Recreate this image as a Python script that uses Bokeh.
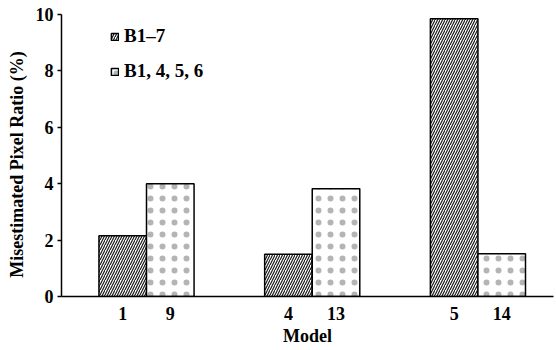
from bokeh.plotting import figure
from bokeh.models import ColumnDataSource, FixedTicker, Legend, LegendItem
from bokeh.transform import dodge
from bokeh.embed import file_html
from bokeh.resources import INLINE

# Data
groups = [1, 2, 3]
models_a = ["1", "4", "5"]
models_b = ["9", "13", "14"]
series_a_name = "B1\u20137"
series_b_name = "B1, 4, 5, 6"
values_a = [2.15, 1.50, 9.85]
values_b = [4.00, 3.82, 1.52]
y_ticks = [0, 2, 4, 6, 8, 10]

BW = 0.287
FONT = "Liberation Serif"
FS = "18px"

p = figure(width=556, height=350, output_backend="svg", toolbar_location=None,
           x_range=(0.487, 3.456), y_range=(0, 10),
           min_border_left=61, min_border_right=3, min_border_top=14, min_border_bottom=54)
p.outline_line_color = None
p.xgrid.grid_line_color = None
p.ygrid.grid_line_color = None

src = ColumnDataSource(dict(g=groups, a=values_a, b=values_b))

ra = p.vbar(x=dodge("g", -BW / 2, range=p.x_range), top="a", width=BW, source=src,
            fill_color="white", line_color="black", line_width=1.5,
            hatch_pattern="right_diagonal_line", hatch_scale=5, hatch_weight=1.2,
            hatch_color="#1a1a1a")
rb = p.vbar(x=dodge("g", BW / 2, range=p.x_range), top="b", width=BW, source=src,
            fill_color="white", line_color="black", line_width=1.5,
            hatch_pattern="dot", hatch_scale=12, hatch_weight=0.1,
            hatch_color="#b4b4b4")

# x ticks at bar centres
tick_pos = []
overrides = {}
for g, ma, mb in zip(groups, models_a, models_b):
    tick_pos += [g - BW / 2, g + BW / 2]
    overrides[g - BW / 2] = ma
    overrides[g + BW / 2] = mb
p.xaxis.ticker = FixedTicker(ticks=tick_pos)
p.xaxis.major_label_overrides = overrides
p.xaxis.major_tick_line_color = None
p.xaxis.minor_tick_line_color = None
p.xaxis.major_label_standoff = 4
p.xaxis.axis_label = "Model"
p.xaxis.axis_label_standoff = 3

p.yaxis.ticker = FixedTicker(ticks=y_ticks)
p.yaxis.minor_tick_line_color = None
p.yaxis.major_tick_in = 0
p.yaxis.major_tick_out = 4
p.yaxis.major_label_standoff = 4
p.yaxis.axis_label = "Misestimated Pixel Ratio (%)" + "\u00a0" * 4
p.yaxis.axis_label_standoff = 6

for ax in (p.xaxis[0], p.yaxis[0]):
    ax.axis_line_color = "black"
    ax.axis_line_width = 1.5
    ax.major_tick_line_width = 1.5
    ax.major_label_text_font = FONT
    ax.major_label_text_font_style = "bold"
    ax.major_label_text_font_size = FS
    ax.major_label_text_color = "black"
    ax.axis_label_text_font = FONT
    ax.axis_label_text_font_style = "bold"
    ax.axis_label_text_font_size = FS
    ax.axis_label_text_color = "black"

legend = Legend(items=[LegendItem(label=series_a_name, renderers=[ra]),
                       LegendItem(label=series_b_name, renderers=[rb])],
                location=(49, 214), padding=0, margin=0, spacing=13,
                glyph_width=9, glyph_height=9, label_standoff=5, label_height=22,
                border_line_alpha=0, background_fill_alpha=0,
                label_text_font=FONT, label_text_font_style="bold",
                label_text_font_size="19px", label_text_color="black")
p.add_layout(legend)

open("out.html", "w").write(file_html(p, INLINE))
